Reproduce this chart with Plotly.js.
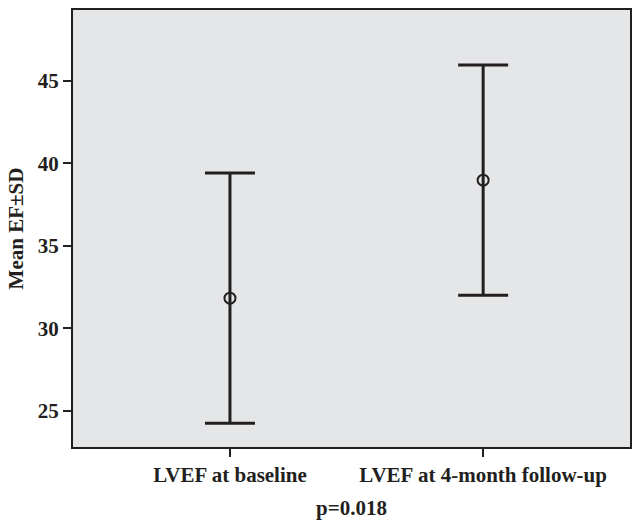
<!DOCTYPE html>
<html>
<head>
<meta charset="utf-8">
<script src="https://cdn.plot.ly/plotly-3.0.1.min.js"></script>
<style>html,body{margin:0;padding:0;background:#fff;}#chart{width:634px;height:521px;}</style>
</head>
<body>
<div id="chart"></div>
<script>
var categories = ["LVEF at baseline", "LVEF at 4-month follow-up"];
var meanEF = [31.82, 38.97];
var sdEF = [7.58, 6.98];
var yTickVals = [25, 30, 35, 40, 45];
var pText = "p=0.018";

var ink = "#231f20";
var fam = "Liberation Serif, Times New Roman, serif";

var trace = {
  type: "scatter",
  mode: "markers",
  x: [0, 1],
  y: meanEF,
  marker: {symbol: "circle-open", size: 11, color: ink, line: {width: 2, color: ink}},
  error_y: {type: "data", array: sdEF, symmetric: true, color: ink, thickness: 3, width: 25},
  hoverinfo: "skip"
};

var layout = {
  width: 634, height: 521,
  margin: {l: 73, r: 4, t: 10, b: 74},
  paper_bgcolor: "#ffffff",
  plot_bgcolor: "#e5e6e8",
  showlegend: false,
  font: {family: fam, size: 21, color: ink},
  xaxis: {
    range: [-0.62, 1.58],
    tickvals: [0, 1],
    ticktext: categories,
    ticks: "outside", ticklen: 8, tickwidth: 2, tickcolor: ink,
    showline: true, linecolor: ink, linewidth: 2, mirror: true,
    showgrid: false, zeroline: false,
    tickfont: {family: fam, size: 21, color: ink, weight: "bold"},
    title: {text: "<b>" + pText + "</b>", font: {family: fam, size: 21, color: ink}, standoff: 14}
  },
  yaxis: {
    range: [22.8, 49.28],
    tickvals: yTickVals,
    ticks: "outside", ticklen: 8, tickwidth: 2, tickcolor: ink,
    showline: true, linecolor: ink, linewidth: 2, mirror: true,
    showgrid: false, zeroline: false,
    tickfont: {family: fam, size: 21, color: ink, weight: "bold"},
    title: {text: "<b>Mean EF±SD</b>", font: {family: fam, size: 21, color: ink}, standoff: 8}
  }
};

Plotly.newPlot("chart", [trace], layout, {displayModeBar: false, staticPlot: true});
</script>
</body>
</html>
